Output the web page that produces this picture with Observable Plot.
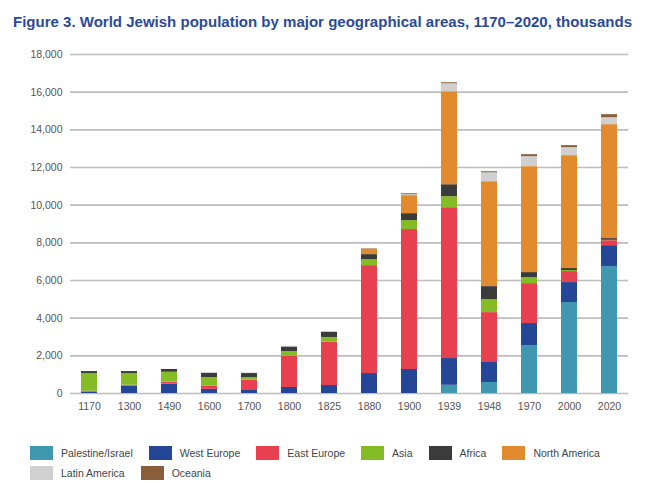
<!DOCTYPE html>
<html>
<head>
<meta charset="utf-8">
<script src="https://cdn.jsdelivr.net/npm/d3@7"></script>
<script src="https://cdn.jsdelivr.net/npm/@observablehq/plot@0.6"></script>
<style>
  body { margin: 0; background: #fff; }
  #wrap { position: relative; width: 645px; height: 483px; background: #fff; overflow: hidden; }
  #title { position: absolute; left: 13px; top: 13px; white-space: nowrap; transform-origin: 0 0;
    font-family: "Liberation Sans", Arial, sans-serif;
    font-weight: bold; font-size: 15.5px; line-height: 18px; color: #2b4a98; }
  #chart { position: absolute; left: 0; top: 35px; }
  #legend { position: absolute; left: 30px; top: 446px; width: 585px; display: flex; flex-wrap: wrap;
    column-gap: 16px; row-gap: 6px; font-family: "Liberation Sans", Arial, sans-serif; font-size: 10.5px; color: #444; }
  .item { display: flex; align-items: center; height: 14px; }
  .sw { width: 23px; height: 14px; margin-right: 8px; }
</style>
</head>
<body>
<div id="wrap">
  <div id="title">Figure 3. World Jewish population by major geographical areas, 1170–2020, thousands</div>
  <div id="chart"></div>
  <div id="legend"></div>
</div>
<script>
const years = ["1170","1300","1490","1600","1700","1800","1825","1880","1900","1939","1948","1970","2000","2020"];
const regions = ["Palestine/Israel","West Europe","East Europe","Asia","Africa","North America","Latin America","Oceania"];
const colors = ["#3f97b0","#254596","#e8404f","#84bc26","#3b3b3b","#e28b2e","#d0d0d0","#8b5e3b"];

const palestineIsrael = [0,0,0,0,0,0,0,0,0,435,585,2545,4830,6740];
const westEurope      = [70,390,495,220,160,320,425,1060,1275,1420,1060,1170,1060,1110];
const eastEurope      = [50,50,105,160,545,1660,2300,5730,7430,8010,2650,2120,585,265];
const asia            = [940,620,530,470,145,250,250,320,475,585,690,320,55,20];
const africa          = [105,105,145,220,210,240,280,265,370,635,690,265,105,90];
const northAmerica    = [0,0,0,0,0,0,0,280,955,4935,5570,5625,5995,6050];
const latinAmerica    = [0,0,0,50,30,40,35,10,50,425,475,530,425,370];
const oceania         = [0,0,0,0,0,0,0,25,50,55,55,105,105,160];

const yTicks = [0,2000,4000,6000,8000,10000,12000,14000,16000,18000];

const series = [palestineIsrael, westEurope, eastEurope, asia, africa, northAmerica, latinAmerica, oceania];
const data = years.flatMap((year, i) => regions.map((region, j) => ({year, region, value: series[j][i]})));

const chart = Plot.plot({
  width: 645,
  height: 385,
  marginTop: 19,
  marginBottom: 27,
  marginLeft: 70,
  marginRight: 17,
  style: { fontFamily: "'Liberation Sans', Arial, sans-serif", fontSize: "10.5px", color: "#555", background: "#fff" },
  x: { domain: years, paddingInner: 0.6, paddingOuter: 0.143, label: null },
  y: { domain: [0, 18000], label: null },
  color: { domain: regions, range: colors },
  marks: [
    Plot.ruleY(yTicks, { stroke: "#bdbdbd", strokeWidth: 1.6 }),
    Plot.barY(data, { x: "year", y: "value", fill: "region", order: regions }),
    Plot.axisY({ ticks: yTicks, tickFormat: d3.format(","), tickSize: 0, tickPadding: 8, label: null }),
    Plot.axisX({ tickSize: 0, tickPadding: 9, label: null })
  ]
});
document.getElementById("chart").appendChild(chart);

// fit the title to the reference width (condensed face)
const title = document.getElementById("title");
const tw = title.getBoundingClientRect().width;
title.style.transform = `scaleX(${619 / tw})`;

const legend = document.getElementById("legend");
regions.forEach((r, i) => {
  const item = document.createElement("div");
  item.className = "item";
  const sw = document.createElement("span");
  sw.className = "sw";
  sw.style.background = colors[i];
  const t = document.createElement("span");
  t.textContent = r;
  item.appendChild(sw);
  item.appendChild(t);
  legend.appendChild(item);
});
</script>
</body>
</html>
